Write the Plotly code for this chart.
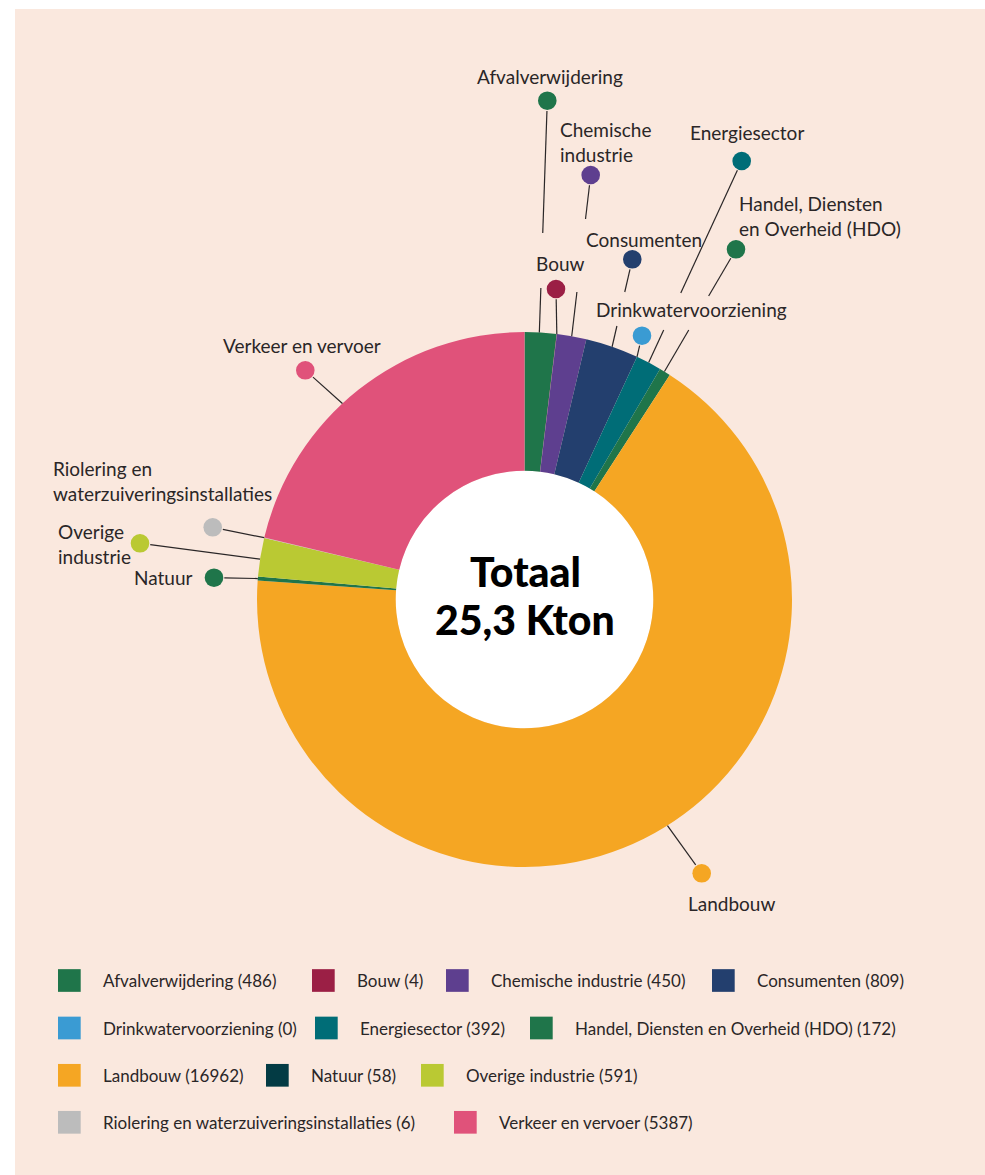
import plotly.graph_objects as go
import numpy as np

W, H = 985, 1175

labels = ['Afvalverwijdering', 'Bouw', 'Chemische industrie', 'Consumenten',
          'Drinkwatervoorziening', 'Energiesector', 'Handel, Diensten en Overheid (HDO)',
          'Landbouw', 'Natuur', 'Overige industrie',
          'Riolering en waterzuiveringsinstallaties', 'Verkeer en vervoer']
values = [486, 4, 450, 809, 0, 392, 172, 16962, 58, 591, 6, 5387]
colors = ['#1F754A', '#9B1F45', '#5E3F8F', '#233F6E', '#3A9BD3', '#006D77',
          '#1F754A', '#F5A623', '#033B44', '#BAC933', '#BCBCBC', '#E0527A']
# the Natuur slice and its dot are drawn green in the chart, only the legend uses the dark colour
slice_colors = colors[:8] + ['#1F754A'] + colors[9:]
center_text = ['Totaal', '25,3 Kton']

BG = '#FAE8DE'
TXT = '#2A2627'
FONT = 'Lato'

# geometry in pixels
cx, cy, R, R_in = 524.5, 599.5, 267.5, 128.8


def px(x):
    return x / W


def py(y):
    return 1 - y / H


fig = go.Figure(go.Pie(
    labels=labels, values=values, sort=False, direction='clockwise', rotation=0,
    hole=R_in / R, textinfo='none', showlegend=False,
    marker=dict(colors=slice_colors, line=dict(width=0)),
    domain=dict(x=[px(cx - R), px(cx + R)], y=[py(cy + R), py(cy - R)]),
))

shapes = [
    dict(type='rect', xref='paper', yref='paper', x0=px(15), x1=1, y0=0, y1=py(9),
         fillcolor=BG, line=dict(width=0), layer='below'),
    dict(type='circle', xref='paper', yref='paper',
         x0=px(cx - R_in), x1=px(cx + R_in), y0=py(cy + R_in), y1=py(cy - R_in),
         fillcolor='white', line=dict(width=0), layer='below'),
]
annotations = []

# callouts: slice index, dot centre, label x, anchor, label centre y, words before line break, gaps in y, position in slice
callouts = [
    (0, (547.3, 100.7), 550, 'center', 76, None, [(233, 288)], 0.46),
    (1, (556, 289), 560, 'center', 263, None, [], 0.5),
    (2, (590.7, 175), 557.5, 'left', 142, 1, [(219, 292)], 0.5),
    (3, (632.3, 259.3), 584, 'left', 239, None, [(292, 326)], 0.5),
    (4, (642, 335.7), 691, 'center', 310, None, [], 0.5),
    (5, (741.7, 161), 746.5, 'center', 133, None, [(293, 330)], 0.5),
    (6, (736, 249.3), 736.5, 'left', 215.5, 2, [(296, 330)], 0.45),
    (7, (701.7, 873.3), 731.5, 'center', 903, None, [], 0.476),
    (8, (214, 577.7), 194.5, 'right', 577, None, [], 0.5),
    (9, (140, 543.3), 56, 'left', 543.5, 1, [], 0.45),
    (10, (212.7, 527.3), 51, 'left', 481, 2, [], 0.5),
    (11, (305.3, 370.3), 302, 'center', 345, None, [], 0.44),
]

total = sum(values)
cum = np.concatenate([[0], np.cumsum(values)])
DOT_R = 9.3

for i, (dx, dy), lx, anchor, ly, brk, gaps, frac in callouts:
    theta = np.deg2rad((cum[i] + frac * values[i]) / total * 360)
    ex, ey = cx + R * np.sin(theta), cy - R * np.cos(theta)
    vx, vy = ex - dx, ey - dy
    L = np.hypot(vx, vy)
    t0 = (DOT_R + 1) / L
    # split the leader line where it has gaps
    cuts = [t0]
    for ga, gb in gaps:
        ta, tb = (ga - dy) / vy, (gb - dy) / vy
        cuts += [min(ta, tb), max(ta, tb)]
    cuts.append(1.0)
    for a, b in zip(cuts[0::2], cuts[1::2]):
        shapes.append(dict(type='line', xref='paper', yref='paper',
                           x0=px(dx + a * vx), y0=py(dy + a * vy),
                           x1=px(dx + b * vx), y1=py(dy + b * vy),
                           line=dict(color=TXT, width=1.2)))
    shapes.append(dict(type='circle', xref='paper', yref='paper',
                       x0=px(dx - DOT_R), x1=px(dx + DOT_R), y0=py(dy + DOT_R), y1=py(dy - DOT_R),
                       fillcolor=slice_colors[i], line=dict(width=0)))
    words = labels[i].split(' ')
    text = labels[i] if brk is None else ' '.join(words[:brk]) + '<br>' + ' '.join(words[brk:])
    annotations.append(dict(text=text, xref='paper', yref='paper', x=px(lx), y=py(ly),
                            xanchor=anchor, yanchor='middle', align=anchor,
                            showarrow=False, font=dict(family=FONT, size=19, color=TXT)))

# centre text
for k, t in enumerate(center_text):
    annotations.append(dict(text=t, xref='paper', yref='paper', x=px(525), y=py(571 + k * 48),
                            xanchor='center', yanchor='middle', showarrow=False,
                            font=dict(family=FONT, size=41, color='black', weight=900)))

# legend built by hand
legend_row = [0, 0, 0, 0, 1, 1, 1, 2, 2, 2, 3, 3]
legend_x = [58, 312, 446, 712, 58, 315, 530, 58, 266, 421, 58, 454]
row_y = [980.5, 1028, 1075.3, 1122.3]
SQ = 22.7
for i in range(len(labels)):
    x0, yc = legend_x[i], row_y[legend_row[i]]
    shapes.append(dict(type='rect', xref='paper', yref='paper',
                       x0=px(x0), x1=px(x0 + SQ), y0=py(yc + SQ / 2), y1=py(yc - SQ / 2),
                       fillcolor=colors[i], line=dict(width=0)))
    annotations.append(dict(text=f'{labels[i]} ({values[i]})', xref='paper', yref='paper',
                            x=px(x0 + 42.7), y=py(yc), xanchor='left', yanchor='middle',
                            showarrow=False, font=dict(family=FONT, size=17, color=TXT)))

fig.update_layout(width=W, height=H, margin=dict(l=0, r=0, t=0, b=0),
                  paper_bgcolor='white', shapes=shapes, annotations=annotations)

fig.write_html("out.html", config={'displayModeBar': False},
               post_script="document.body.style.margin='0';")
